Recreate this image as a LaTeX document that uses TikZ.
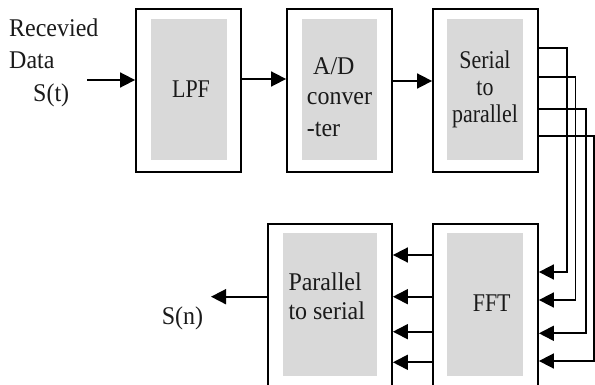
\documentclass[tikz,border=0pt]{standalone}
\usepackage{fontspec}
\setmainfont{Liberation Serif}
\newfontfamily\tightserif{Liberation Serif}[FakeStretch=0.86]
\newfontfamily\looseserif{Liberation Serif}[FakeStretch=0.94]
\usetikzlibrary{arrows.meta,calc}
\definecolor{panelgray}{HTML}{D9D9D9}
\definecolor{inkgray}{HTML}{1A1A1A}
\tikzset{
  outerbox/.style={draw=black, line width=1.8pt, fill=white, inner sep=0pt},
  innerbox/.style={fill=panelgray, draw=none, inner sep=0pt},
  lbl/.style={inner sep=0pt, text=inkgray, font=\fontsize{25}{31}\selectfont},
  lblA/.style={lbl, font=\tightserif\fontsize{25.5}{31}\selectfont},
  lblB/.style={lbl, font=\looseserif\fontsize{25.5}{31}\selectfont},
  wire/.style={line width=1.7pt, draw=black},
  arr/.style={wire, -{Triangle[length=15pt,width=15pt]}},
}
\begin{document}
\begin{tikzpicture}[x=1pt,y=-1pt]
  \useasboundingbox (0,0) rectangle (595,385);
  \clip (0,0) rectangle (595,385);

  % upper row of blocks
  \node[outerbox, minimum width=105pt, minimum height=162.5pt] (lpf) at (188.5,90.5) {};
  \node[innerbox, minimum width=76pt, minimum height=141pt] (lpfin) at (189,89.5) {};
  \node[outerbox, minimum width=105pt, minimum height=162.5pt] (adc) at (339.5,90.5) {};
  \node[innerbox, minimum width=75pt, minimum height=141pt] (adcin) at (339.5,89.5) {};
  \node[outerbox, minimum width=105pt, minimum height=162.5pt] (s2p) at (485.5,90.5) {};
  \node[innerbox, minimum width=76pt, minimum height=141pt] (s2pin) at (485,89.5) {};

  % lower row of blocks (running past the lower edge)
  \node[outerbox, minimum width=105pt, minimum height=164pt] (fft) at (485.5,306) {};
  \node[innerbox, minimum width=76pt, minimum height=143pt] (fftin) at (485,304.5) {};
  \node[outerbox, minimum width=124pt, minimum height=164pt] (p2s) at (330,306) {};
  \node[innerbox, minimum width=94pt, minimum height=143pt] (p2sin) at (330,304.5) {};

  % block labels
  \node[lblA, anchor=base] (tlpf) at (191,97.3) {LPF};
  \node[lblB, anchor=base west] (tad1) at (313,74.3) {A/D};
  \node[lblB, anchor=base west] (tad2) at (306.7,105) {conver};
  \node[lblB, anchor=base west] (tad3) at (306.7,136.7) {-ter};
  \node[lblA, anchor=base] (ts1) at (485,68.3) {Serial};
  \node[lblA, anchor=base] (ts2) at (485,95.5) {to};
  \node[lblA, anchor=base] (ts3) at (485,122.5) {parallel};
  \node[lblA, anchor=base] (tfft) at (491.7,311.7) {FFT};
  \node[lblB, anchor=base west] (tp1) at (288.3,290) {Parallel};
  \node[lblB, anchor=base west] (tp2) at (288.3,319.3) {to serial};

  % input and output labels
  \node[lblB, anchor=base west] (in1) at (9,36.7) {Recevied};
  \node[lblB, anchor=base west] (in2) at (9,68.3) {Data};
  \node[lblB, anchor=base west] (in3) at (33,102) {S(t)};
  \node[lblB, anchor=base west] (out) at (161.7,324) {S(n)};

  % serial path along the top
  \coordinate (src) at (87,80);
  \draw[arr] (src) -- (src -| lpf.west);
  \draw[arr] (lpf.east |- 0,79) -- (adc.west |- 0,79);
  \draw[arr] (adc.east |- 0,81) -- (s2p.west |- 0,81);

  % four parallel branches from the serial-to-parallel block down to the FFT
  \coordinate (b1) at (567,272);
  \coordinate (b2) at (575.5,300);
  \coordinate (b3) at (586,333.3);
  \coordinate (b4) at (594,361);
  \draw[arr] ($(s2p.north east)+(0,39.7)$) -| (b1) -- (b1 -| fft.east);
  \draw[arr] ($(s2p.north east)+(0,69)$) -| (b2) -- (b2 -| fft.east);
  \draw[arr] ($(s2p.north east)+(0,100.7)$) -| (b3) -- (b3 -| fft.east);
  \draw[arr] ($(s2p.north east)+(0,128)$) -| (b4) -- (b4 -| fft.east);

  % FFT outputs into the parallel-to-serial block
  \draw[arr] (fft.west |- 0,255) -- (p2s.east |- 0,255);
  \draw[arr] (fft.west |- 0,296.7) -- (p2s.east |- 0,296.7);
  \draw[arr] (fft.west |- 0,331.7) -- (p2s.east |- 0,331.7);
  \draw[arr] (fft.west |- 0,362.3) -- (p2s.east |- 0,362.3);

  % serial output
  \coordinate (snk) at (211,296.7);
  \draw[arr] (p2s.west |- snk) -- (snk);
\end{tikzpicture}
\end{document}
